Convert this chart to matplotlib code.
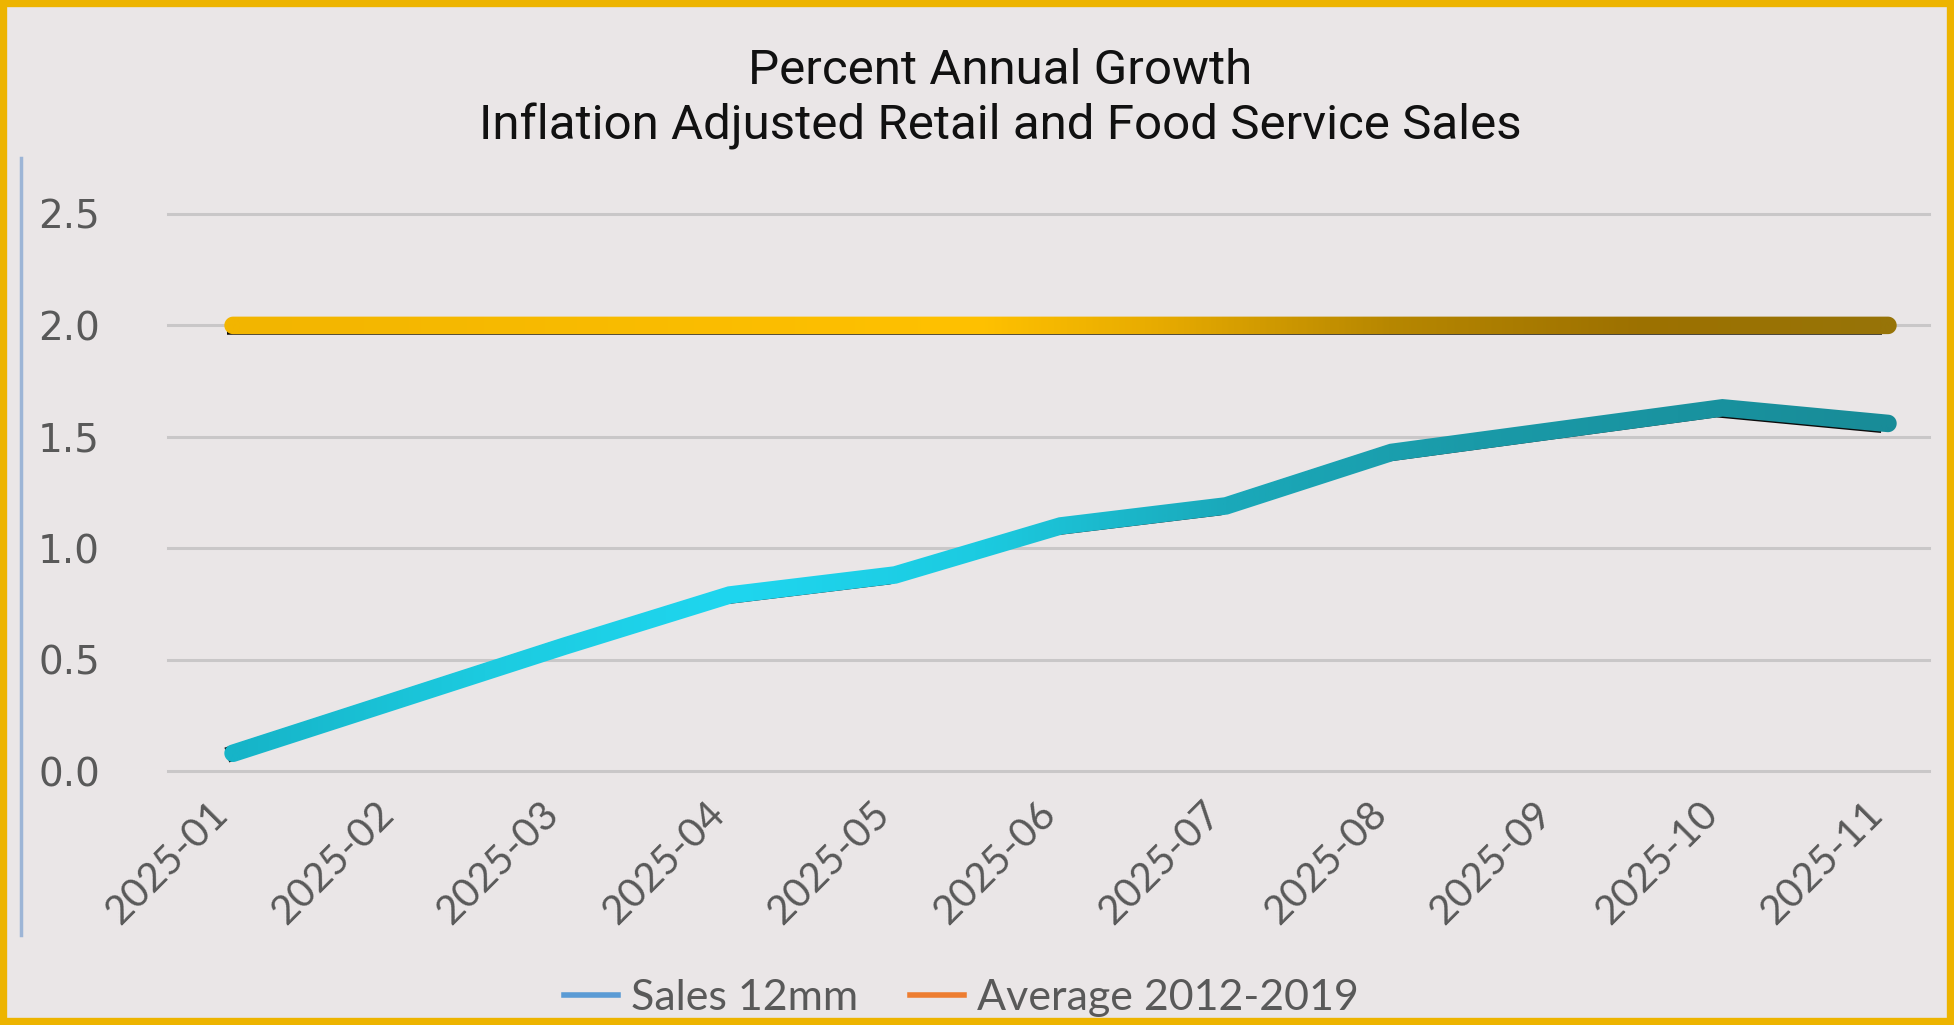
import matplotlib
matplotlib.use('Agg')
import matplotlib.pyplot as plt
import numpy as np
from matplotlib.colors import LinearSegmentedColormap
import matplotlib.patheffects as pe
import matplotlib.transforms as mtransforms
from matplotlib.lines import Line2D
from matplotlib.patches import Rectangle, Polygon

months = ['2025-01', '2025-02', '2025-03', '2025-04', '2025-05', '2025-06',
          '2025-07', '2025-08', '2025-09', '2025-10', '2025-11']
sales_12mm = [0.08, 0.32, 0.56, 0.79, 0.88, 1.10, 1.19, 1.43, 1.53, 1.63, 1.56]
avg_2012_2019 = [2.0] * 11
yticks = [0.0, 0.5, 1.0, 1.5, 2.0, 2.5]

bg = '#EAE6E7'
fig = plt.figure(figsize=(19.54, 10.25), dpi=100, facecolor=bg)
ax = fig.add_axes([0.086, 0.226, 0.9012, 0.587])
ax.set_facecolor(bg)

x = np.arange(len(months))
ax.set_xlim(-0.393, 10.248)
ax.set_ylim(-0.1, 2.6)

# gridlines
for v in yticks:
    ax.axhline(v, color='#C9C7C8', lw=2.2, zorder=1, clip_on=False)

LW_PX = 17.5


def stroke_outline(xs, ys, w):
    # outline of a thick polyline (display pixels), round ends
    P = ax.transData.transform(np.column_stack([xs, ys]))
    d = np.diff(P, axis=0)
    d = d / np.linalg.norm(d, axis=1)[:, None]
    nrm = np.column_stack([-d[:, 1], d[:, 0]])
    vn = np.zeros_like(P)
    vn[0], vn[-1] = nrm[0], nrm[-1]
    for i in range(1, len(P) - 1):
        m = nrm[i - 1] + nrm[i]
        m = m / np.linalg.norm(m)
        vn[i] = m / np.dot(m, nrm[i])
    h = w / 2
    left = P + vn * h
    right = P - vn * h
    a0 = np.arctan2(d[0, 1], d[0, 0])
    a1 = np.arctan2(d[-1, 1], d[-1, 0])
    t = np.linspace(np.pi / 2, -np.pi / 2, 24)
    end_cap = P[-1] + h * np.column_stack([np.cos(a1 + t), np.sin(a1 + t)])
    start_cap = P[0] + h * np.column_stack([np.cos(a0 + np.pi + t), np.sin(a0 + np.pi + t)])
    return np.vstack([left, end_cap, right[::-1], start_cap])


def grad_line(xs, ys, cmap, zorder):
    # thin dark shadow
    ax.plot(xs, ys, lw=(LW_PX - 2) * 0.72, color='k', solid_capstyle='butt', zorder=zorder,
            path_effects=[pe.SimpleLineShadow(offset=(-4.5, -1.3), shadow_color='black', alpha=0.95)])
    poly = Polygon(stroke_outline(xs, ys, LW_PX), closed=True, transform=mtransforms.IdentityTransform(),
                   facecolor='none', edgecolor='none')
    ax.add_patch(poly)
    xl = ax.get_xlim()
    xx = np.linspace(xl[0], xl[1], 600)
    g = np.clip((xx - xs[0]) / (xs[-1] - xs[0]), 0, 1)[None, :]
    im = ax.imshow(g, cmap=cmap, vmin=0, vmax=1, aspect='auto', interpolation='bilinear',
                   extent=(xl[0], xl[1], -0.1, 2.6), zorder=zorder + 0.1)
    im.set_clip_path(poly)


gold = LinearSegmentedColormap.from_list('gold', [(0, '#F2B500'), (0.45, '#FFC100'), (0.56, '#E7AB00'),
                                                  (0.7, '#B78700'), (0.85, '#9D7100'), (1, '#977408')])
teal = LinearSegmentedColormap.from_list('teal', [(0, '#16B4C8'), (0.15, '#1CCBE0'), (0.3, '#1FD6EF'),
                                                  (0.45, '#1CCBE1'), (0.6, '#1AA9BA'), (0.75, '#1A9AA8'),
                                                  (1, '#188C98')])
grad_line(x, avg_2012_2019, gold, 3)
grad_line(x, sales_12mm, teal, 4)

ax.set_xlim(-0.393, 10.248)
ax.set_ylim(-0.1, 2.6)
ax.set_yticks(yticks)
ax.set_yticklabels([f'{v:.1f}' for v in yticks], fontsize=28, color='#595959', family='DejaVu Sans')
ax.set_xticks(x)
ax.set_xticklabels([])
for xi, m in zip(x, months):
    ax.annotate(m, xy=(xi, 0), xytext=(-8, -27), textcoords='offset points', rotation=45,
                ha='right', va='center', rotation_mode='anchor', fontsize=29, color='#595959',
                family=['Liberation Sans Narrow', 'Lato'], annotation_clip=False)
ax.tick_params(axis='y', length=0, pad=49)
ax.tick_params(axis='x', length=0)
for s in ax.spines.values():
    s.set_visible(False)

fig.text(0.512, 0.931, 'Percent Annual Growth', ha='center', va='center', fontsize=35.5,
         family='Roboto', color='#111111')
fig.text(0.512, 0.877, 'Inflation Adjusted Retail and Food Service Sales', ha='center', va='center',
         fontsize=35.5, family='Roboto', color='#111111')

handles = [Line2D([], [], color='#5B9BD5', lw=4), Line2D([], [], color='#ED7D31', lw=4)]
leg = fig.legend(handles, ['Sales 12mm', 'Average 2012-2019'], loc='center', bbox_to_anchor=(0.492, 0.026),
                 ncol=2, frameon=False, handlelength=1.25, handletextpad=0.3, columnspacing=1.2,
                 prop={'family': ['Liberation Sans Narrow', 'Lato'], 'size': 31})
for t in leg.get_texts():
    t.set_color('#595959')

# left thin blue line and gold frame
fig.add_artist(Line2D([0.0108, 0.0108], [0.088, 0.846], color='#9DB5D6', lw=2.5))
fig.add_artist(Rectangle((0.0015, 0.003), 0.997, 0.994, transform=fig.transFigure, fill=False,
                         edgecolor='#EDB400', lw=6))

fig.savefig('out.png', dpi=100, facecolor=bg)
